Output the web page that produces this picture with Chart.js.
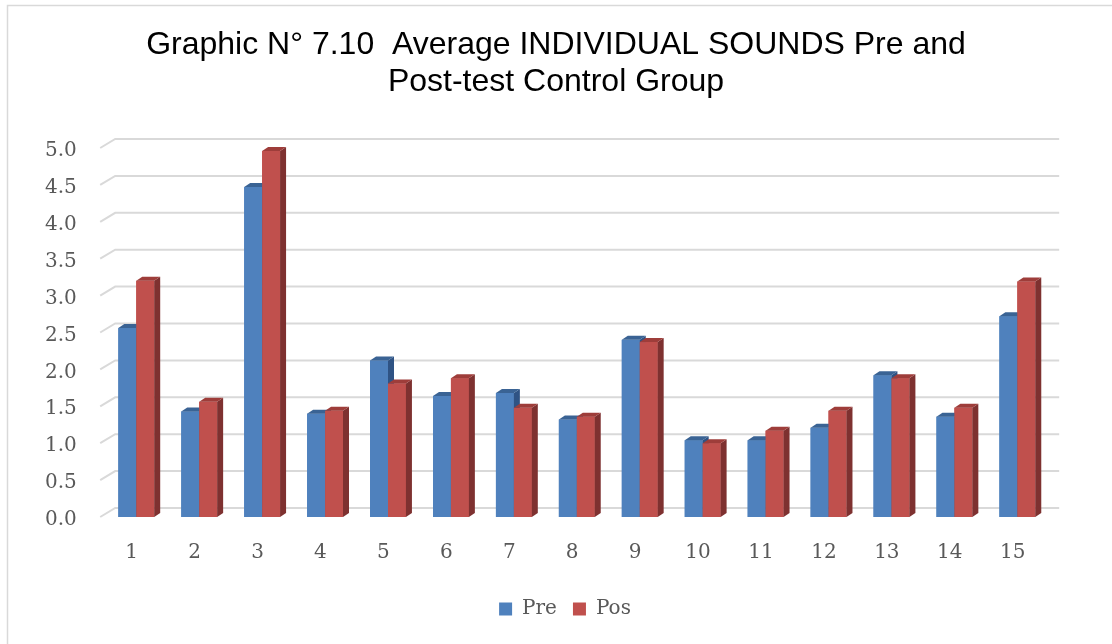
<!DOCTYPE html>
<html>
<head>
<meta charset="utf-8">
<script src="https://cdn.jsdelivr.net/npm/chart.js@4.4.1/dist/chart.umd.min.js"></script>
<style>
    html, body { margin: 0; padding: 0; background: #fff; }
    #wrap { width: 1112px; height: 644px; }
</style>
</head>
<body>
<div id="wrap"><canvas id="soundsChart" width="1112" height="644"></canvas></div>
<script>
const categories = ['1', '2', '3', '4', '5', '6', '7', '8', '9', '10', '11', '12', '13', '14', '15'];
const preValues = [2.56, 1.43, 4.47, 1.40, 2.12, 1.64, 1.68, 1.32, 2.40, 1.04, 1.04, 1.21, 1.92, 1.36, 2.72];
const posValues = [3.20, 1.56, 4.96, 1.44, 1.81, 1.88, 1.48, 1.36, 2.37, 1.00, 1.17, 1.44, 1.88, 1.48, 3.19];
const titleLines = ['Graphic N\u00b0 7.10  Average INDIVIDUAL SOUNDS Pre and', 'Post-test Control Group'];

const textColor = '#595959';
const gridColor = '#d9d9d9';
const serif = "'DejaVu Serif', serif";

// depth of the back wall and of the bars (fake 3D)
const wallDx = 15, wallDy = 9;
const barDx = 6, barDy = 4;
const shiftX = 4.6; // bars sit a bit behind the front plane

const faces = [
    { front: '#4f81bd', top: '#3a6394', side: '#2f5384' },
    { front: '#c0504d', top: '#9e3d3a', side: '#7e3130' }
];

const wall3d = {
    id: 'wall3d',
    afterLayout(chart) {
        // legend sits a little right of centre in the original
        if (chart.legend) {
            chart.legend.left += 9;
            chart.legend.right += 9;
        }
    },
    beforeDraw(chart) {
        const ctx = chart.ctx;
        ctx.save();
        ctx.strokeStyle = gridColor;
        ctx.lineWidth = 1.5;
        ctx.strokeRect(7.5, 5.5, chart.width + 10, chart.height + 10);
        ctx.restore();
    },
    beforeDatasetsDraw(chart) {
        const { ctx, chartArea, scales } = chart;
        const left = chartArea.left - shiftX;
        const right = chartArea.right - shiftX;
        ctx.save();
        ctx.strokeStyle = gridColor;
        ctx.lineWidth = 2;
        scales.y.ticks.forEach((t) => {
            const y = scales.y.getPixelForValue(t.value);
            ctx.beginPath();
            ctx.moveTo(left, y);
            ctx.lineTo(left + wallDx, y - wallDy);
            ctx.lineTo(right + wallDx, y - wallDy);
            ctx.stroke();
        });
        ctx.restore();
    },
    afterDatasetsDraw(chart) {
        const ctx = chart.ctx;
        const metas = [chart.getDatasetMeta(0), chart.getDatasetMeta(1)];
        ctx.save();
        for (let i = 0; i < categories.length; i++) {
            metas.forEach((meta, d) => {
                const bar = meta.data[i];
                const { x, y, base, width } = bar.getProps(['x', 'y', 'base', 'width'], true);
                const l = x - width / 2;
                const r = x + width / 2;
                const f = faces[d];
                // front face again, so it covers the side of the bar before it
                ctx.fillStyle = f.front;
                ctx.fillRect(l, y, width, base - y);
                ctx.fillStyle = f.side;
                ctx.beginPath();
                ctx.moveTo(r, y);
                ctx.lineTo(r + barDx, y - barDy);
                ctx.lineTo(r + barDx, base - barDy);
                ctx.lineTo(r, base);
                ctx.closePath();
                ctx.fill();
                ctx.fillStyle = f.top;
                ctx.beginPath();
                ctx.moveTo(l, y);
                ctx.lineTo(l + barDx, y - barDy);
                ctx.lineTo(r + barDx, y - barDy);
                ctx.lineTo(r, y);
                ctx.closePath();
                ctx.fill();
            });
        }
        ctx.restore();
    }
};

new Chart(document.getElementById('soundsChart'), {
    type: 'bar',
    data: {
        labels: categories,
        datasets: [{
            label: 'Pre',
            data: preValues,
            backgroundColor: faces[0].front,
            borderWidth: 0
        }, {
            label: 'Pos',
            data: posValues,
            backgroundColor: faces[1].front,
            borderWidth: 0
        }]
    },
    options: {
        responsive: false,
        animation: false,
        devicePixelRatio: 1,
        layout: { padding: { top: 0, left: 0, right: 0, bottom: 15 } },
        datasets: {
            bar: { categoryPercentage: 0.57, barPercentage: 1.0 }
        },
        plugins: {
            title: {
                display: true,
                text: titleLines,
                color: '#000',
                font: { family: "'Liberation Sans', Arial, sans-serif", size: 32, weight: 'normal', lineHeight: 1.156 },
                padding: { top: 27, bottom: 47 }
            },
            legend: {
                position: 'bottom',
                labels: {
                    color: textColor,
                    font: { family: serif, size: 20 },
                    boxWidth: 13,
                    boxHeight: 13,
                    padding: 16
                }
            },
            tooltip: { enabled: false }
        },
        scales: {
            x: {
                grid: { display: false, drawTicks: false },
                border: { display: false },
                ticks: {
                    color: textColor,
                    font: { family: serif, size: 20 },
                    padding: 24,
                    labelOffset: -shiftX,
                    maxRotation: 0
                },
                afterFit: (scale) => { scale.height = 66; }
            },
            y: {
                min: 0,
                max: 5,
                grid: { display: false, drawTicks: false },
                border: { display: false },
                ticks: {
                    stepSize: 0.5,
                    color: textColor,
                    font: { family: serif, size: 20 },
                    padding: 28,
                    labelOffset: 3,
                    callback: (v) => Number(v).toFixed(1)
                },
                afterFit: (scale) => { scale.width = 104.8; }
            },
            // empty right-hand box, keeps the plot narrow while title and legend stay centred
            yRight: {
                position: 'right',
                grid: { display: false, drawTicks: false },
                border: { display: false },
                ticks: { display: false },
                afterFit: (scale) => { scale.width = 63.2; }
            }
        }
    },
    plugins: [wall3d]
});
</script>
</body>
</html>
